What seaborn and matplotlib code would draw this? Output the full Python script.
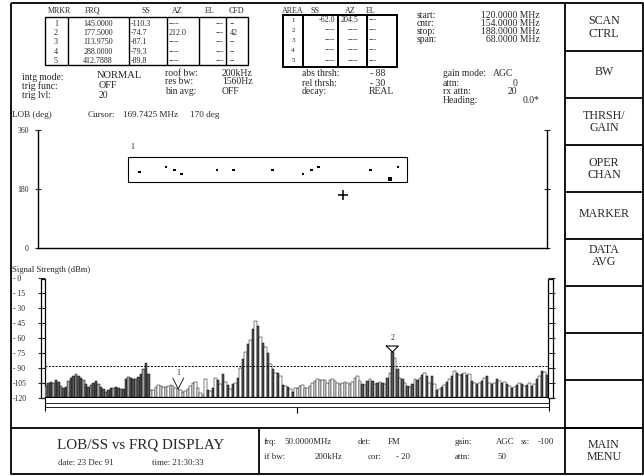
import numpy as np
import matplotlib
matplotlib.use('Agg')
import matplotlib.pyplot as plt
from matplotlib.patches import Rectangle
import seaborn as sns

# --- data ---
# LOB (line of bearing) hits: frequency (MHz), bearing (deg), weight
lob_freq = [133.6, 137.1, 138.2, 139.2, 143.9, 146.1, 151.3, 155.4, 156.5, 157.5, 164.4, 167.0, 168.1]
lob_deg = [232, 247, 238, 226, 238, 238, 238, 226, 238, 247, 238, 210, 247]
lob_weight = [1, 1, 1, 1, 1, 1, 1, 1, 1, 1, 1, 2, 1]
area_box = (132.0, 169.3, 200, 277)   # f_lo, f_hi, deg_lo, deg_hi
cursor_freq, cursor_deg = 160.7, 161

# signal strength per frequency bin (dBm)
ss_dbm = [
    -108, -105, -103.5, -104.5, -102, -104, -107.5, -110, -108.5, -103,
    -100, -98, -96, -97.5, -99.5, -101.5, -105.5, -108.5, -107, -104.5,
    -103, -105.5, -108.5, -111, -114, -111.5, -110, -110, -109, -109.5,
    -110.5, -111, -101, -98.5, -99.5, -101, -100.5, -99, -96, -91,
    -84.5, -96, -112, -112, -109, -106.5, -107.5, -108.5, -108.5, -107.5,
    -107, -108, -110, -111, -112, -113.5, -113, -110.5, -108, -105,
    -104, -109.5, -115, -117,
    -101, -112, -113, -110, -100, -102, -105.5, -96, -103.5, -107,
    -111, -106, -104.5, -99.5, -89.5, -81, -74, -66, -62, -51,
    -42.5, -47.5, -59, -65, -69, -75, -86, -91, -94.5, -95,
    -98, -107, -108, -109, -111, -113.5, -110, -109.5, -108, -107,
    -110, -109.5, -108, -104.5, -103, -101, -102, -102, -102, -104.5,
    -102, -101, -103, -104.5, -105.5, -104.5, -103.5, -104.5, -105.5, -103.5,
    -99.5, -98, -103, -105.5, -107, -103, -100.5, -103,
    -105.5, -104.5, -103.5, -104.5, -105.5, -99.5, -94.5, -74, -79.5, -91,
    -99.5, -101, -104.5, -108, -109, -106, -101, -102, -99.5, -97,
    -94.5, -98, -104.5, -98, -106, -112, -111, -109, -107, -103.5,
    -101, -98, -93, -94.5, -97, -95.5, -94.5, -97, -95.5, -103,
    -104.5, -105.5, -104.5, -103, -99.5, -98, -104.5, -106, -104.5, -101,
    -103, -104.5, -103.5, -105.5, -108, -110, -109, -107, -104.5, -105.5,
    -108, -107, -104.5, -108, -105.5, -101, -98, -93, -94, -96.5,
]
floor_dbm = -120
abs_thrsh = -88
marker1_bin = 53
marker2_bin = 139
ss_ticks = [-120, -105, -90, -75, -60, -45, -30, -15, 0]
ss_ticklabels = ['-120', '-105', '- 90', '- 75', '- 60', '- 45', '- 30', '- 15', '- 0']

# marker table
mrkr_frq = ['145.0000', '177.5000', '113.9750', '288.0000', '412.7888']
mrkr_ss = ['-110.3', '-74.7', '-87.1', '-79.3', '-89.8']
mrkr_az = ['----', '212.0', '----', '----', '----']
mrkr_el = ['---', '---', '---', '---', '---']
mrkr_cfd = ['--', '42', '--', '--', '--']
# area table
area_ss = ['-62.0', '----', '----', '----', '----']
area_az = ['204.5', '----', '----', '----', '----']
area_el = ['---', '---', '---', '---', '---']

buttons = ['SCAN\nCTRL', 'BW', 'THRSH/\nGAIN', 'OPER\nCHAN', 'MARKER', 'DATA\nAVG', '', '', '', 'MAIN\nMENU']

sns.set_style('white')
plt.rcParams['font.family'] = ['Liberation Serif', 'DejaVu Serif']

W, H = 644, 476
fig = plt.figure(figsize=(W / 100, H / 100), dpi=100)

# full-figure pixel canvas for frames and text
ax0 = fig.add_axes([0, 0, 1, 1])
ax0.set_xlim(0, W)
ax0.set_ylim(H, 0)
ax0.axis('off')


def px_axes(left, top, right, bottom):
    a = fig.add_axes([left / W, 1 - bottom / H, (right - left) / W, (bottom - top) / H])
    a.set_facecolor('none')
    return a


def ln(xs, ys, lw=1.0):
    ax0.plot(xs, ys, color='black', lw=lw, solid_capstyle='butt')


def txt(x, y, s, size=6.5, ha='left', **kw):
    ax0.text(x, y, s, fontsize=size, ha=ha, va='center', **kw)


# outer frame and panels
ln([11, 643, 643, 11, 11], [3, 3, 474, 474, 3], lw=1.3)
ln([565, 565], [3, 474], lw=1.3)
ln([11, 643], [428, 428], lw=1.3)
ln([259, 259], [428, 474], lw=1.3)
btn_edges = [3, 51, 98, 145, 192, 239, 286, 333, 380, 428, 474]
for yb in btn_edges[1:-1]:
    ln([565, 643], [yb, yb], lw=1.3)
btn_y = [27.5, 72, 122, 169, 214, 256, 0, 0, 0, 451]
for lab, yb in zip(buttons, btn_y):
    if lab:
        txt(604, yb, lab, size=8.6, ha='center', linespacing=1.1)

# marker table
ts = 5.8
txt(59, 11, 'MRKR', ts, 'center')
txt(93, 11, 'FRQ', ts, 'center')
txt(146, 11, 'SS', ts, 'center')
txt(177, 11, 'AZ', ts, 'center')
txt(210, 11, 'EL', ts, 'center')
txt(237, 11, 'CFD', ts, 'center')
ax0.add_patch(Rectangle((45, 17), 203, 47.5, fill=False, lw=1.0, ec='black'))
for xd in [68, 129, 167, 199, 226]:
    ln([xd, xd], [17, 64.5], lw=1.0)
mrkr_rows = [24, 33, 42, 52, 61]
for i, yr in enumerate(mrkr_rows):
    txt(56, yr, str(i + 1), ts, 'center')
    txt(98, yr, mrkr_frq[i], ts, 'center')
    txt(131, yr, mrkr_ss[i], ts)
    txt(169, yr, mrkr_az[i], ts)
    txt(224, yr, mrkr_el[i], ts, 'right')
    txt(230, yr, mrkr_cfd[i], ts)

# area table
txt(293, 11, 'AREA', ts, 'center')
txt(315, 11, 'SS', ts, 'center')
txt(350, 11, 'AZ', ts, 'center')
txt(371, 11, 'EL', ts, 'center')
ax0.add_patch(Rectangle((283, 15), 114, 52, fill=False, lw=1.4, ec='black'))
for xd in [303, 338, 367]:
    ln([xd, xd], [15, 67], lw=1.4)
area_rows = [20.5, 30, 40, 50.5, 61]
for i, yr in enumerate(area_rows):
    txt(293, yr, str(i + 1), 5.0, 'center')
    txt(335, yr, area_ss[i], ts, 'right')
    txt(358, yr, area_az[i], ts, 'right')
    txt(369, yr, area_el[i], ts)

# scan settings
fs = 6.9
for lab, val, yr in [('start:', '120.0000 MHz', 15), ('cntr:', '154.0000 MHz', 23),
                     ('stop:', '188.0000 MHz', 31.5), ('span:', '68.0000 MHz', 39.5)]:
    txt(417, yr, lab, fs)
    txt(540, yr, val, fs, 'right')

# mode settings
txt(22, 77, 'intg mode:', fs)
txt(97, 76, 'NORMAL', 7.6)
txt(22, 86, 'trig func:', fs)
txt(99, 86, 'OFF', 7.4)
txt(22, 95, 'trig lvl:', fs)
txt(99, 95, '20', fs)
txt(165, 73, 'roof bw:', fs)
txt(222, 73, '200kHz', fs)
txt(165, 82, 'res bw:', fs)
txt(222, 82, '1560Hz', fs)
txt(165, 91, 'bin avg:', fs)
txt(222, 91, 'OFF', fs)
txt(302, 74, 'abs thrsh:', fs)
txt(370, 74, '- 88', fs)
txt(302, 83, 'rel thrsh:', fs)
txt(370, 83, '- 30', fs)
txt(302, 92, 'decay:', fs)
txt(369, 92, 'REAL', fs)
txt(443, 74, 'gain mode:', fs)
txt(493, 74, 'AGC', fs)
txt(443, 83, 'attn:', fs)
txt(515, 83, '0', fs, 'center')
txt(443, 92, 'rx attn:', fs)
txt(512, 92, '20', fs, 'center')
txt(443, 100.5, 'Heading:', fs)
txt(540, 100.5, '0.0*', fs, 'right')

txt(12, 115, 'LOB (deg)', 6.6)
txt(88, 115, 'Cursor:', 6.6)
txt(123, 115, '169.7425 MHz', 6.6)
txt(190, 115, '170 deg', 6.6)
txt(12, 270, 'Signal Strength (dBm)', 6.2)

# --- LOB vs frequency ---
ax1 = px_axes(38, 130, 547, 248)
sns.scatterplot(x=lob_freq, y=lob_deg, size=lob_weight, sizes=(4, 10), marker='s',
                color='black', linewidth=0, legend=False, ax=ax1)
f_lo, f_hi, d_lo, d_hi = area_box
ax1.add_patch(Rectangle((f_lo, d_lo), f_hi - f_lo, d_hi - d_lo, fill=False, lw=0.8, ec='black'))
ax1.text(f_lo + 0.3, d_hi + 18, '1', fontsize=5.8, ha='left', va='bottom')
ax1.plot(cursor_freq, cursor_deg, marker='+', ms=7, mew=1.1, color='black')
ax1.set_xlim(120, 188)
ax1.set_ylim(0, 360)
ax1.set_xticks([])
ax1.set_yticks([0, 180, 360])
ax1.set_yticklabels(['0', '180', '360'], fontsize=5.6)
ax1.tick_params(axis='y', left=True, right=True, direction='inout', length=5, width=0.8, pad=4)
ax1.spines['top'].set_visible(False)
for s in ['left', 'right', 'bottom']:
    ax1.spines[s].set_color('black')
    ax1.spines[s].set_linewidth(1.0)

# --- signal strength vs frequency bin ---
ss = np.array(ss_dbm)
n_bins = len(ss)
ax2 = px_axes(45, 278, 548, 398)
sns.barplot(x=np.arange(n_bins), y=ss - floor_dbm, color='white', edgecolor='black',
            linewidth=0.35, width=1.0, saturation=1, ax=ax2)
for i, p in enumerate(ax2.patches):
    if 42 <= i < 64 or 101 <= i < 126:
        p.set_facecolor('white')
    elif i < 42:
        p.set_facecolor('#555555' if i % 3 else '#a0a0a0')
    else:
        p.set_facecolor('#555555' if i % 2 else 'white')
ax2.axhline(abs_thrsh - floor_dbm, color='black', lw=0.7, ls=(0, (2, 1.5)))
ax2.axhline(0, color='black', lw=1.6)

# marker 1: open V, marker 2: closed triangle
h1 = ss[marker1_bin] - floor_dbm
ax2.plot([marker1_bin - 2.2, marker1_bin, marker1_bin + 2.2], [h1 + 11, h1, h1 + 11], color='black', lw=0.6)
ax2.text(marker1_bin, h1 + 12, '1', fontsize=5.5, ha='center', va='bottom')
h2 = ss[marker2_bin] - floor_dbm
ax2.plot([marker2_bin - 2.4, marker2_bin, marker2_bin + 2.4, marker2_bin - 2.4],
         [h2 + 6, h2, h2 + 6, h2 + 6], color='black', lw=0.8)
ax2.text(marker2_bin, h2 + 10, '2', fontsize=5.5, ha='center', va='bottom')

ax2.set_xlim(-0.5, n_bins - 0.5)
ax2.set_ylim(0, 120)
ax2.set_xticks([])
ax2.set_xlabel('')
ax2.set_ylabel('')
ax2.set_yticks([t - floor_dbm for t in ss_ticks])
ax2.set_yticklabels(ss_ticklabels, fontsize=5.5, ha='left')
ax2.tick_params(axis='y', left=True, right=True, direction='out', length=5, width=0.8, pad=18)
for s in ax2.spines.values():
    s.set_visible(False)

# axis ladders and the frequency strip under the spectrum
ax0.add_patch(Rectangle((41, 279), 4, 119, fill=False, lw=0.9, ec='black'))
ax0.add_patch(Rectangle((548, 279), 5, 119, fill=False, lw=0.9, ec='black'))
ln([45, 549], [402.5, 402.5], lw=0.6)
ln([45, 549], [407, 407], lw=0.6)
ln([45, 45], [398, 411], lw=0.8)
ln([549, 549], [398, 411], lw=0.8)
ln([297, 297], [407, 413], lw=0.8)

# bottom status panel
txt(141, 445, 'LOB/SS vs FRQ DISPLAY', 10.8, 'center')
txt(58, 463, 'date: 23 Dec 91', 6.3)
txt(152, 463, 'time: 21:30:33', 6.3)
for lab, xp in [('frq:', 264), ('50.0000MHz', 284), ('det:', 358), ('FM', 388),
                ('gain:', 455), ('AGC', 496), ('ss:', 521), ('-100', 538)]:
    txt(xp, 442, lab, 6.3)
for lab, xp in [('if bw:', 264), ('200kHz', 315), ('cor:', 368), ('- 20', 396),
                ('attn:', 455), ('50', 497)]:
    txt(xp, 457, lab, 6.3)

fig.savefig('out.png', dpi=100)
